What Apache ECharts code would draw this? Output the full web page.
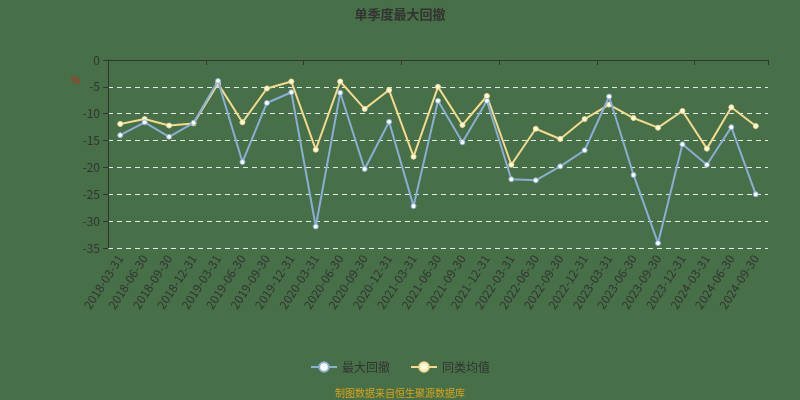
<!DOCTYPE html>
<html>
<head>
<meta charset="utf-8">
<script src="https://cdn.jsdelivr.net/npm/echarts@6/dist/echarts.min.js"></script>
<style>
  html, body { margin: 0; padding: 0; background: #477048; }
  #chart { width: 800px; height: 400px; }
</style>
</head>
<body>
<div id="chart"></div>
<script>
// Quarter-end dates
const quarters = [
  '2018-03-31', '2018-06-30', '2018-09-30', '2018-12-31',
  '2019-03-31', '2019-06-30', '2019-09-30', '2019-12-31',
  '2020-03-31', '2020-06-30', '2020-09-30', '2020-12-31',
  '2021-03-31', '2021-06-30', '2021-09-30', '2021-12-31',
  '2022-03-31', '2022-06-30', '2022-09-30', '2022-12-31',
  '2023-03-31', '2023-06-30', '2023-09-30', '2023-12-31',
  '2024-03-31', '2024-06-30', '2024-09-30'
];

// Largest drawdown per quarter (%)
const maxDrawdown = [
  -14.0, -11.6, -14.3, -11.7,
  -3.9, -19.0, -8.0, -6.0,
  -31.0, -6.1, -20.3, -11.5,
  -27.2, -7.6, -15.3, -7.6,
  -22.2, -22.4, -19.8, -16.8,
  -6.8, -21.4, -34.1, -15.7,
  -19.5, -12.5, -25.0
];

// Peer-group average (%)
const peerAverage = [
  -11.9, -11.0, -12.2, -11.8,
  -4.4, -11.6, -5.3, -4.0,
  -16.7, -4.0, -9.1, -5.6,
  -18.0, -5.0, -12.1, -6.7,
  -19.5, -12.8, -14.7, -11.0,
  -8.3, -10.8, -12.6, -9.5,
  -16.5, -8.8, -12.3
];

const yTicks = { min: -35, max: 0, interval: 5 };

const chart = echarts.init(document.getElementById('chart'), null, { renderer: 'canvas' });

const textColor = '#333333';
const font = 'Noto Sans CJK SC, Noto Sans, sans-serif';

chart.setOption({
  backgroundColor: '#477048',
  animation: false,
  textStyle: { fontFamily: font },
  title: {
    text: '单季度最大回撤',
    left: 'center',
    top: 3,
    textStyle: { fontSize: 13, fontWeight: 'bold', color: textColor, fontFamily: font }
  },
  legend: {
    bottom: 22,
    left: 'center',
    itemWidth: 26,
    itemHeight: 12,
    itemGap: 20,
    textStyle: { fontSize: 12, color: textColor, fontFamily: font },
    data: ['最大回撤', '同类均值']
  },
  graphic: [
    {
      type: 'text',
      left: 'center',
      bottom: 2,
      style: { text: '制图数据来自恒生聚源数据库', fill: '#d9a21b', font: '10px ' + font }
    },
    {
      type: 'text',
      left: 71,
      top: 75,
      style: { text: '%', fill: '#d22020', font: '10px ' + font }
    }
  ],
  grid: { left: 108, right: 32, top: 60, bottom: 152 },
  xAxis: [
    {
      type: 'category',
      data: quarters,
      boundaryGap: true,
      axisLine: { onZero: true, lineStyle: { color: '#333333', width: 1 } },
      axisTick: { show: true, alignWithLabel: false, lineStyle: { color: '#333333' } },
      axisLabel: { show: false },
      splitLine: { show: false }
    },
    {
      type: 'category',
      data: quarters,
      position: 'bottom',
      boundaryGap: true,
      axisLine: { show: false, onZero: false },
      axisTick: { show: false },
      axisLabel: {
        show: true,
        interval: 0,
        rotate: 57,
        margin: 8,
        color: textColor,
        fontSize: 12,
        fontFamily: font
      },
      splitLine: { show: false }
    }
  ],
  yAxis: {
    type: 'value',
    min: yTicks.min,
    max: yTicks.max,
    interval: yTicks.interval,
    axisLine: { show: true, lineStyle: { color: '#333333' } },
    axisTick: { show: true, lineStyle: { color: '#333333' } },
    axisLabel: { color: textColor, fontSize: 12, margin: 8, fontFamily: font },
    splitLine: { show: true, lineStyle: { color: 'rgba(255,255,255,0.85)', type: [5, 4], width: 1 } }
  },
  series: [
    {
      name: '最大回撤',
      type: 'line',
      xAxisIndex: 0,
      data: maxDrawdown,
      symbol: 'circle',
      symbolSize: 5,
      lineStyle: { color: '#8aaed4', width: 2 },
      itemStyle: { color: '#ffffff', borderColor: '#8aaed4', borderWidth: 1 },
      z: 3
    },
    {
      name: '同类均值',
      type: 'line',
      xAxisIndex: 0,
      data: peerAverage,
      symbol: 'circle',
      symbolSize: 5,
      lineStyle: { color: '#f3da8c', width: 2 },
      itemStyle: { color: '#fffbe6', borderColor: '#f3da8c', borderWidth: 1 },
      z: 2
    }
  ]
});
</script>
</body>
</html>
